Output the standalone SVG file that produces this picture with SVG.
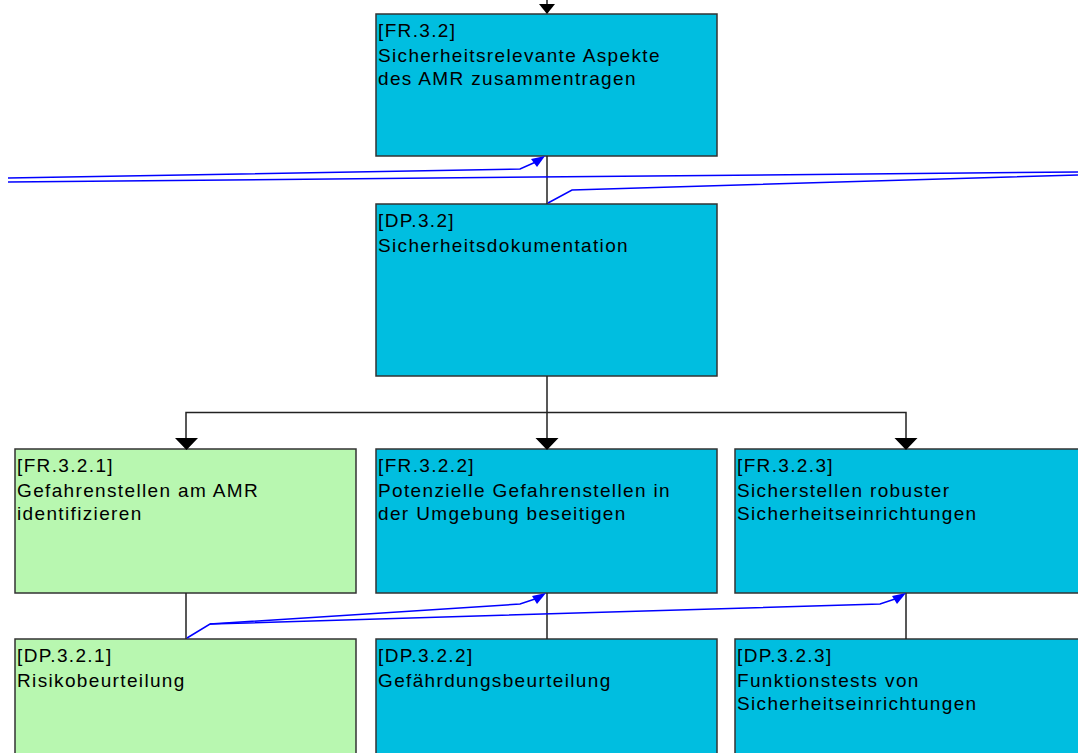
<svg xmlns="http://www.w3.org/2000/svg" width="1078" height="753" viewBox="0 0 1078 753">
<style>
.box{stroke:#333;stroke-width:1.5}
.fr{fill:#00BEE0}
.gr{fill:#B8F7B0}
text{font-family:"Liberation Sans",Arial,sans-serif;font-size:19px;letter-spacing:1.35px;fill:#000}
.k{stroke:#222;stroke-width:1.5;fill:none}
.b{stroke:#0000FF;stroke-width:1.5;fill:none}
.ah{fill:#000}
.bh{fill:#0000FF}
</style>
<rect width="1078" height="753" fill="#fff"/>
<g id="FR.3.2"><rect class="box fr" x="376" y="14" width="341" height="142"/>
<text x="378" y="37">[FR.3.2]</text><text x="378" y="62">Sicherheitsrelevante Aspekte</text><text x="378" y="85">des AMR zusammentragen</text></g>
<g id="DP.3.2"><rect class="box fr" x="376" y="204" width="341" height="172"/>
<text x="378" y="227">[DP.3.2]</text><text x="378" y="252">Sicherheitsdokumentation</text></g>
<g id="FR.3.2.1"><rect class="box gr" x="15" y="449" width="341" height="144"/>
<text x="17" y="472">[FR.3.2.1]</text><text x="17" y="497">Gefahrenstellen am AMR</text><text x="17" y="520">identifizieren</text></g>
<g id="FR.3.2.2"><rect class="box fr" x="376" y="449" width="341" height="144"/>
<text x="378" y="472">[FR.3.2.2]</text><text x="378" y="497">Potenzielle Gefahrenstellen in</text><text x="378" y="520">der Umgebung beseitigen</text></g>
<g id="FR.3.2.3"><rect class="box fr" x="735" y="449" width="350" height="144"/>
<text x="737" y="472">[FR.3.2.3]</text><text x="737" y="497">Sicherstellen robuster</text><text x="737" y="520">Sicherheitseinrichtungen</text></g>
<g id="DP.3.2.1"><rect class="box gr" x="15" y="639" width="341" height="130"/>
<text x="17" y="662">[DP.3.2.1]</text><text x="17" y="687">Risikobeurteilung</text></g>
<g id="DP.3.2.2"><rect class="box fr" x="376" y="639" width="341" height="130"/>
<text x="378" y="662">[DP.3.2.2]</text><text x="378" y="687">Gefährdungsbeurteilung</text></g>
<g id="DP.3.2.3"><rect class="box fr" x="735" y="639" width="350" height="130"/>
<text x="737" y="662">[DP.3.2.3]</text><text x="737" y="687">Funktionstests von</text><text x="737" y="710">Sicherheitseinrichtungen</text></g>
<g id="connectors">
<path class="k" d="M547 0V6"/>
<path class="ah" d="M539 4H555L547 14Z"/>
<path class="k" d="M547 156V204"/>
<path class="k" d="M547 376V440M186 440V412.5H906V440"/>
<path class="ah" d="M175 438H198L186.5 450ZM535.5 438H558.5L547 450ZM894.5 438H917.5L906 450Z"/>
<path class="k" d="M186 593V639M547 593V639M906 593V639"/>
<path class="b" d="M8 178L520 169L538 161"/>
<path class="bh" d="M545 156L531 159L537 167Z"/>
<path class="b" d="M8 182L1078 172"/>
<path class="b" d="M548 203L572 190L1078 175"/>
<path class="b" d="M187 638L210 624L520 604L538 598"/>
<path class="bh" d="M546 593L532 596L537 604Z"/>
<path class="b" d="M210 624L880 604L898 598"/>
<path class="bh" d="M906 593L892 596L897 604Z"/>
</g>
</svg>
